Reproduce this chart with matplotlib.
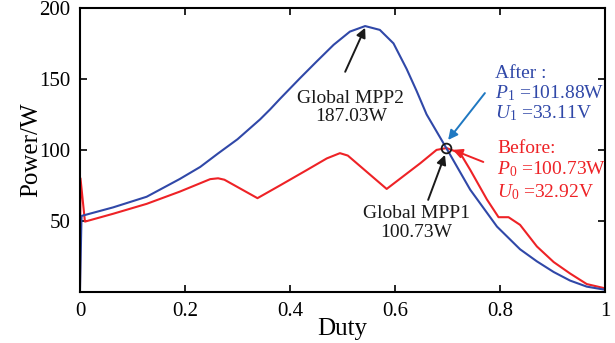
import matplotlib
matplotlib.use("Agg")
import matplotlib.pyplot as plt

plt.rcParams['font.family'] = ['Liberation Serif', 'DejaVu Serif']
plt.rcParams['mathtext.fontset'] = 'custom'
plt.rcParams['mathtext.rm'] = 'Liberation Serif'
plt.rcParams['mathtext.it'] = 'Liberation Serif:italic'

# curve after (blue) and before (red)
duty_after = [0, 0.003, 0.063, 0.127, 0.19, 0.229, 0.263, 0.3, 0.343, 0.362, 0.381,
              0.419, 0.45, 0.483, 0.514, 0.543, 0.571, 0.597, 0.622, 0.641, 0.66,
              0.698, 0.743, 0.794, 0.838, 0.87, 0.902, 0.933, 0.965, 1.0]
power_after = [0, 53.5, 59.5, 67, 79.5, 88, 97.5, 107.5, 121.5, 128.5, 136,
               150.5, 162, 174, 183.3, 187.2, 184.5, 175, 157, 141.5, 125,
               101, 72, 46, 30, 21.5, 14, 8, 3.7, 1.5]

duty_before = [0, 0.001, 0.0095, 0.063, 0.127, 0.19, 0.248, 0.263, 0.275, 0.338, 0.381,
               0.43, 0.47, 0.495, 0.51, 0.584, 0.648, 0.679, 0.698, 0.724, 0.743,
               0.775, 0.797, 0.816, 0.838, 0.87, 0.902, 0.933, 0.965, 1.0]
power_before = [0, 80, 49.5, 55, 62, 70.6, 79.4, 80, 79, 66, 75,
                85.4, 94, 97.7, 96, 72.5, 90.6, 100, 101.3, 97.7, 86,
                65, 52.6, 52.6, 47.2, 32, 21, 13, 5.5, 2.5]

x_ticks = [0, 0.2, 0.4, 0.6, 0.8, 1]
x_labels = ['0', '0.2', '0.4', '0.6', '0.8', '1']
y_ticks = [50, 100, 150, 200]

blue = '#3048a8'
red = '#ee2226'
black = '#1a1a1a'

fig = plt.figure(figsize=(6.15, 3.43), dpi=100)
ax = fig.add_axes([0.130, 0.149, 0.854, 0.828])

ax.plot(duty_before, power_before, color=red, lw=1.5)
ax.plot(duty_after, power_after, color=blue, lw=1.5)
ax.plot([0.697], [101], marker='o', ms=7, mfc='none', mec=black, mew=1.3)

ax.set_xlim(0, 1)
ax.set_ylim(0, 200)
ax.set_xticks(x_ticks)
ax.set_xticklabels(x_labels)
ax.set_yticks(y_ticks)
ax.tick_params(direction='in', top=True, right=True, length=5, width=1.2,
               labelsize=15, pad=7)
for s in ax.spines.values():
    s.set_linewidth(1.5)
ax.set_xlabel('Duty', fontsize=18, labelpad=-2)
ax.set_ylabel('Power/W', fontsize=18, labelpad=-2)

arrow = dict(arrowstyle='-|>', lw=1.4, mutation_scale=14, shrinkA=0, shrinkB=0)

ax.annotate('', xy=(0.543, 186), xytext=(0.505, 155),
            arrowprops=dict(arrow, color=black))
ax.text(0.516, 130, 'Global MPP2\n187.03W', ha='center', va='center',
        fontsize=14, linespacing=1.1, color=black)

ax.annotate('', xy=(0.695, 96.5), xytext=(0.663, 64.8),
            arrowprops=dict(arrow, color=black))
ax.text(0.64, 48.6, 'Global MPP1\n100.73W', ha='center', va='center',
        fontsize=14, linespacing=1.1, color=black)

ax.annotate('', xy=(0.701, 107), xytext=(0.771, 140),
            arrowprops=dict(arrow, color='#1f78c1'))
ax.text(0.79, 154, 'After :', ha='left', va='center', fontsize=14, color=blue)
ax.text(0.79, 140, '$P_\\mathrm{1}$ =101.88W', ha='left', va='center', fontsize=14, color=blue)
ax.text(0.79, 126, '$U_\\mathrm{1}$ =33.11V', ha='left', va='center', fontsize=14, color=blue)

ax.annotate('', xy=(0.710, 100), xytext=(0.768, 91.5),
            arrowprops=dict(arrow, color=red))
ax.text(0.794, 101, 'Before:', ha='left', va='center', fontsize=14, color=red)
ax.text(0.794, 86.6, '$P_\\mathrm{0}$ =100.73W', ha='left', va='center', fontsize=14, color=red)
ax.text(0.794, 70, '$U_\\mathrm{0}$ =32.92V', ha='left', va='center', fontsize=14, color=red)

fig.savefig('out.png', dpi=100)
